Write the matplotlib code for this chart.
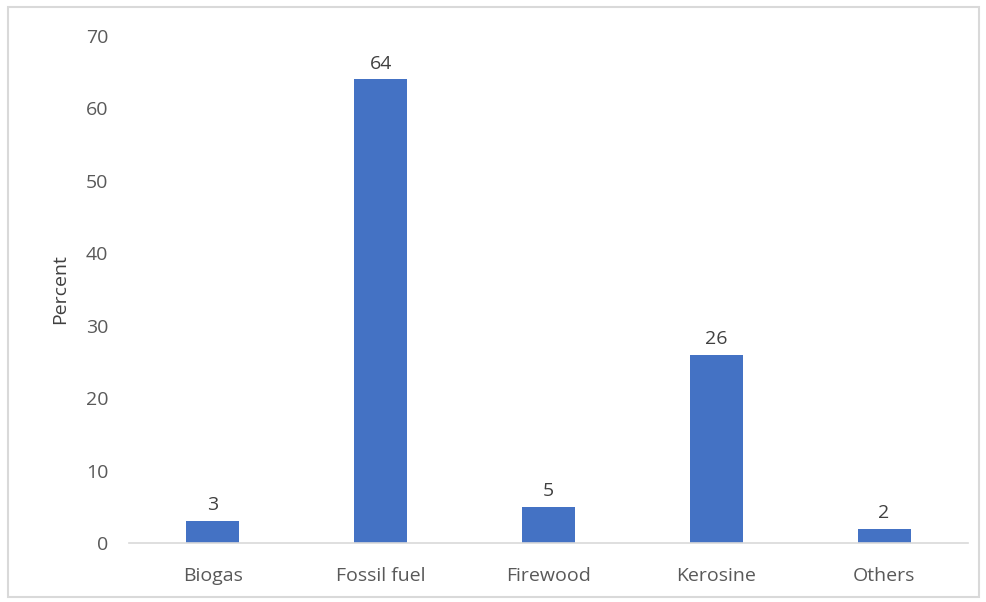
import matplotlib
matplotlib.use("Agg")
import matplotlib.pyplot as plt
from matplotlib.patches import Rectangle

categories = ["Biogas", "Fossil fuel", "Firewood", "Kerosine", "Others"]
values = [3, 64, 5, 26, 2]
yticks = [0, 10, 20, 30, 40, 50, 60, 70]

plt.rcParams['font.family'] = ['Open Sans', 'DejaVu Sans']

fig = plt.figure(figsize=(9.87, 6.02), dpi=100)
fig.patches.append(Rectangle((8/987, 5/602), 971/987, 590/602, transform=fig.transFigure,
                             fill=False, edgecolor='#d9d9d9', linewidth=1.5))
ax = fig.add_axes([129/987, 1-543/602, 839/987, (543-36)/602])
x = list(range(len(categories)))
bars = ax.bar(x, values, width=0.315, color='#4472C4')
ax.set_xlim(-0.5, len(categories)-0.5)
ax.set_ylim(0, 70)
ax.set_yticks(yticks)
ax.set_xticks(x)
ax.set_xticklabels(categories)
for s in ['top', 'right', 'left']:
    ax.spines[s].set_visible(False)
ax.spines['bottom'].set_color('#d9d9d9')
ax.spines['bottom'].set_linewidth(1.2)
ax.tick_params(axis='both', length=0, labelsize=14, colors='#595959')
ax.tick_params(axis='x', pad=17)
ax.tick_params(axis='y', pad=15)
for xi, v in zip(x, values):
    ax.annotate(str(v), (xi, v), xytext=(0, 5), textcoords='offset points',
                ha='center', va='bottom', fontsize=14, color='#404040')
ax.set_ylabel('Percent', fontsize=14, color='#404040', labelpad=12)
fig.savefig('out.png', dpi=100)
